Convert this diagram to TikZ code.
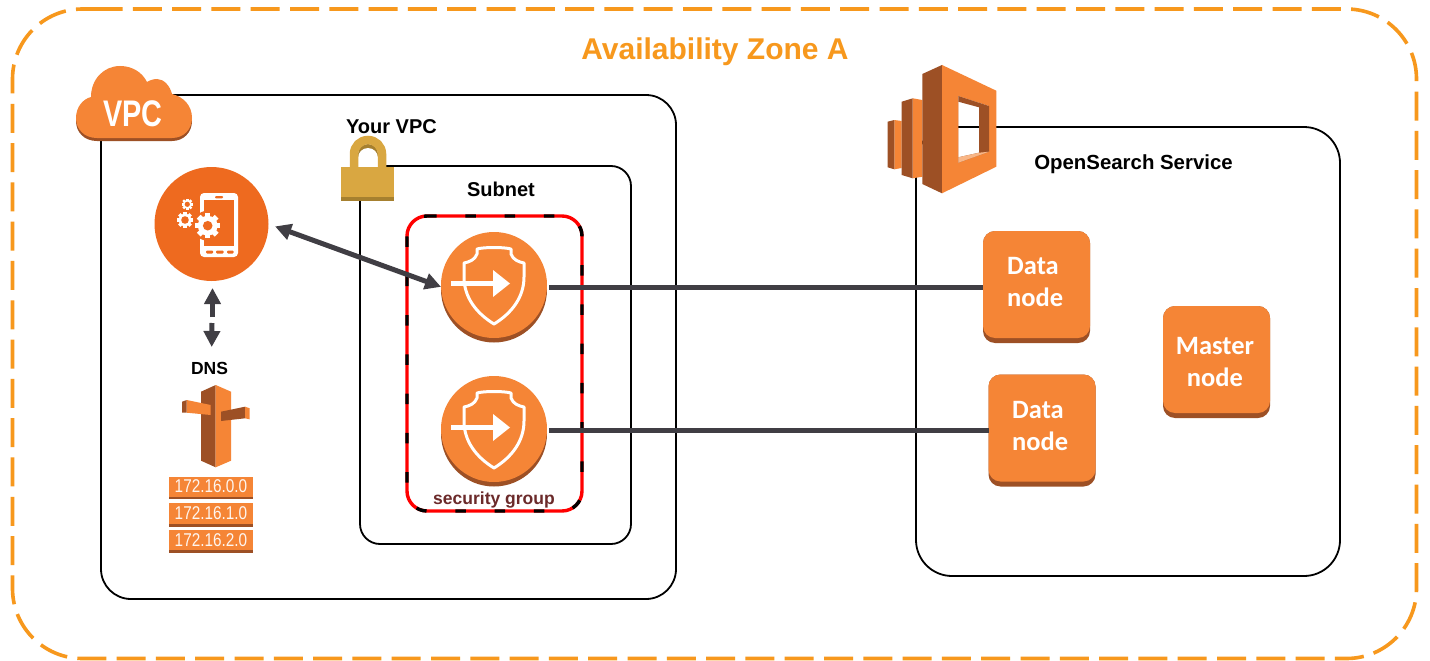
\documentclass[tikz,border=0pt]{standalone}
\usepackage{graphicx}
\usepackage{fontspec}
\setmainfont{Liberation Sans}
\newfontfamily\carlitofont{Carlito}
\usetikzlibrary{arrows.meta,calc}
\definecolor{awsorange}{HTML}{F58536}
\definecolor{awsdark}{HTML}{9D5025}
\definecolor{appor}{HTML}{EE6A1F}
\definecolor{zoneor}{HTML}{F7981D}
\definecolor{arrowgrey}{HTML}{403E44}
\definecolor{lockgold}{HTML}{D9A741}
\definecolor{lockdark}{HTML}{A6802F}
\definecolor{sgtext}{HTML}{6B2A2A}
\tikzset{
  x=1pt,y=-1pt,
  panel/.style={draw=black,line width=1.8pt,fill=none},
  label/.style={font=\bfseries\fontsize{20}{24}\selectfont,text=black,inner sep=0pt},
  smalllabel/.style={font=\bfseries\fontsize{17.5}{21}\selectfont,inner sep=0pt},
  nodetext/.style={font=\carlitofont\bfseries\fontsize{26.5}{32}\selectfont,text=white,inner sep=0pt,align=left},
  nodeshade/.style={fill=awsdark,rounded corners=12pt,minimum width=107pt,minimum height=112pt,inner sep=0pt,outer sep=0pt},
  wire/.style={draw=arrowgrey,line width=5pt},
  biarrow/.style={draw=arrowgrey,line width=5pt,{Triangle[length=16pt,width=16pt]}-{Triangle[length=16pt,width=16pt]}},
  uniarrow/.style={draw=arrowgrey,line width=5pt,-{Triangle[length=16pt,width=16pt]}},
  ipbox/.style={fill=awsorange,text=white!92!awsorange,font=\fontsize{18.5}{20}\selectfont,minimum width=84pt,minimum height=20pt,inner sep=0pt,outer sep=0pt},
  sgnode/.style={circle,minimum size=106pt,inner sep=0pt,outer sep=0pt},
}
\newcommand{\sgicon}[1]{%
  \fill[awsdark] ($(#1)+(0,4.5)$) circle[radius=53];
  \begin{scope}[shift={(#1)},draw=white,line width=3pt,line join=round]
    \fill[awsorange] (0,0) circle[radius=53];
    \draw (0,39) .. controls (-18,28) and (-30,12) .. (-30,-8) -- (-30,-22)
      .. controls (-25,-23) and (-19,-25) .. (-17,-31) -- (-17,-36)
      .. controls (-10,-38) and (10,-38) .. (17,-36) -- (17,-31)
      .. controls (19,-25) and (25,-23) .. (30,-22) -- (30,-8)
      .. controls (30,12) and (18,28) .. (0,39) -- cycle;
    \draw[line width=4.5pt] (-43,-1.5) -- (2,-1.5);
    \fill[white] (-1,-15) -- (16,-1.5) -- (-1,12) -- cycle;
  \end{scope}}
\newcommand{\gearicon}[4]{%
  \foreach \a in {0,45,...,315}{\draw[white,line width=#3*0.42pt] (#1,#2) -- ++(\a:#3);}
  \fill[white] (#1,#2) circle[radius=#3*0.78];
  \fill[appor] (#1,#2) circle[radius=#4];}
\newcommand{\cloudshape}{(97,138) .. controls (84,138) and (76,129) .. (76,118)
  .. controls (76,107) and (83,99) .. (91,97)
  .. controls (91,79) and (104,66) .. (120,66)
  .. controls (132,66) and (142,72) .. (147,82)
  .. controls (150,80) and (154,79) .. (157,79)
  .. controls (164,79) and (170,86) .. (172,94)
  .. controls (184,97) and (192,106) .. (192,118)
  .. controls (192,129) and (184,138) .. (172,138) -- cycle}
\begin{document}
\begin{tikzpicture}
\useasboundingbox (0,0) rectangle (1430,661);
\fill[white] (0,0) rectangle (1430,661);
% zone
\draw[draw=zoneor,line width=3.6pt,rounded corners=70pt,dash pattern=on 29pt off 10.3pt]
  (93.5,9) -- (1416.5,9) -- (1416.5,658.5) -- (12.5,658.5) -- (12.5,9) -- (93.5,9);
\node[font=\bfseries\fontsize{30}{36}\selectfont,text=zoneor,inner sep=0pt] (zonetitle) at (715,52) {Availability Zone A};
% panels
\draw[panel,rounded corners=30pt] (101,95) rectangle (676,599);
\draw[panel,rounded corners=20pt] (360,166) rectangle (631,544);
\draw[panel,rounded corners=36pt] (916,127) rectangle (1340,576);
% security group
\draw[draw=red,line width=3.4pt,rounded corners=20pt] (407,216) rectangle (582,511);
\draw[draw=black,line width=3.4pt,rounded corners=20pt,dash pattern=on 10.5pt off 28.78pt]
  (426,216) -- (582,216) -- (582,511) -- (407,511) -- (407,216) -- (426,216);
% cloud
\fill[awsdark,shift={(0,3)}] \cloudshape;
\fill[awsorange] \cloudshape;
\node[font=\bfseries\fontsize{37}{40}\selectfont,text=white,inner sep=0pt,xscale=0.78] (vpclabel) at (133,114) {VPC};
% lock
\fill[lockdark] (358,168) -- (358,154) arc[start angle=-180,end angle=0,radius=10] -- (378,168) -- cycle;
\fill[white] (358,168) -- (358,158) arc[start angle=-180,end angle=0,radius=10] -- (378,168) -- cycle;
\draw[lockgold,line width=8.5pt] (354,168) -- (354,154) arc[start angle=-180,end angle=0,radius=14] -- (382,168);
\fill[lockgold] (341,166.7) rectangle (394.3,197);
\fill[lockdark] (341,197) rectangle (394.3,200.7);
\node[label] (yourvpc) at (391.5,127) {Your VPC};
\node[label] (subnet) at (501,189) {Subnet};
\node[label,font=\bfseries\fontsize{20.4}{24}\selectfont] (oslabel) at (1133.5,164) {OpenSearch Service};
% app
\node[circle,fill=appor,minimum size=114pt,inner sep=0pt,outer sep=0pt] (app) at (211.5,224) {};
\fill[white,rounded corners=4pt] (200,193) rectangle (238,257);
\fill[appor] (204,200) rectangle (234,246);
\fill[appor,rounded corners=1pt] (215,196) rectangle (223,198.4);
\fill[appor,rounded corners=1pt] (206,250.5) rectangle (213,253.5);
\fill[appor,rounded corners=1pt] (216,250.5) rectangle (223.5,253.5);
\fill[appor,rounded corners=1pt] (227,250.5) rectangle (233.5,253.5);
\fill[appor] (207.7,225.7) circle[radius=15];
\gearicon{207.7}{225.7}{12.7}{4.8}
\gearicon{185}{220}{8}{3.8}
\gearicon{187.3}{204.3}{5.8}{2.6}
% arrows at app
\coordinate (dnsGapTop) at (212.5,317);
\coordinate (appTip) at (212.5,288);
\coordinate (dnsGapBot) at (212,323);
\coordinate (dnsTip) at (211.7,347);
\draw[uniarrow] (dnsGapTop) -- (appTip);
\draw[uniarrow] (dnsGapBot) -- (dnsTip);
% DNS
\node[smalllabel] (dnslabel) at (209.5,368) {DNS};
\fill[awsdark] (201,391.7) -- (215.7,385) -- (215.7,467.3) -- (201,460.7) -- cycle;
\fill[awsorange] (215.7,385) -- (231,391.7) -- (231,460.7) -- (215.7,467.3) -- cycle;
\fill[awsorange] (186.7,400) -- (210.7,405) -- (210.7,415) -- (186.7,412.7) -- cycle;
\fill[awsdark] (182,401.7) -- (186.7,400) -- (186.7,412.7) -- (182,412.7) -- cycle;
\fill[awsdark] (221,411.7) -- (245,406.7) -- (245,418.3) -- (221,421) -- cycle;
\fill[awsorange] (245,406.7) -- (249.7,408.3) -- (249.7,419.3) -- (245,418.3) -- cycle;
\fill[awsdark] (169,496) rectangle (253,499.3);
\fill[awsdark] (169,523.5) rectangle (253,527);
\fill[awsdark] (169,550) rectangle (253,553.3);
\node[ipbox,minimum height=20pt] (ipA) at (211,486.5) {\scalebox{.83}[1]{172.16.0.0}};
\node[ipbox,minimum height=21pt] (ipB) at (211,513.5) {\scalebox{.83}[1]{172.16.1.0}};
\node[ipbox,minimum height=20pt] (ipC) at (211,540) {\scalebox{.83}[1]{172.16.2.0}};
% security-group endpoints
\sgicon{494,285}
\sgicon{494,429}
\node[sgnode] (sgA) at (494,285) {};
\node[sgnode] (sgB) at (494,429) {};
\node[smalllabel,text=sgtext] (sglabel) at (494,500.5) {security group};
% OpenSearch icon
\fill[awsorange] (894.3,120) -- (901.7,121) -- (901.7,168) -- (894.3,169.3) -- cycle;
\fill[awsdark] (887.7,121.7) -- (894.3,120) -- (894.3,169.3) -- (887.7,167.3) -- cycle;
\fill[awsorange] (912.7,98.3) -- (922.3,100) -- (922.3,176.7) -- (912.7,178.3) -- cycle;
\fill[awsdark] (901.7,101.7) -- (912.7,98.3) -- (912.7,178.3) -- (901.7,175) -- cycle;
\fill[awsdark] (922.3,74) -- (942,65) -- (942,193.3) -- (922.3,184) -- cycle;
\fill[awsorange,even odd rule] (942,65) -- (996.3,90.7) -- (996.3,166.7) -- (942,193.3) -- cycle
  (958.3,96) -- (989,106) -- (989,151.7) -- (958.3,162.7) -- cycle;
\fill[awsdark,even odd rule] (958.3,96) -- (989,106) -- (989,151.7) -- (958.3,162.7) -- cycle
  (958.3,101.7) -- (979,107.3) -- (979,152.7) -- (958.3,157.3) -- cycle;
\fill[awsorange!60!white] (958.3,157.3) -- (979,152.7) -- (989,151.7) -- (958.3,162.7) -- cycle;
% data nodes
\node[nodeshade] (dnA) at (1036.5,287) {};
\fill[awsorange,rounded corners=12pt] (dnA.north west) rectangle ($(dnA.south east)+(0,-5)$);
\node[nodetext,anchor=west] (dnAtext) at (1007,282) {Data\\node};
\node[nodeshade] (dnB) at (1042,430.5) {};
\fill[awsorange,rounded corners=12pt] (dnB.north west) rectangle ($(dnB.south east)+(0,-5)$);
\node[nodetext,anchor=west] (dnBtext) at (1012,426) {Data\\node};
\node[nodeshade] (mn) at (1216.5,362) {};
\fill[awsorange,rounded corners=12pt] (mn.north west) rectangle ($(mn.south east)+(0,-5)$);
\node[nodetext,align=center] (mntext) at (1215,362) {Master\\node};
% connectors
\draw[wire,shorten <=2pt] (sgA.east |- dnA.west) -- (dnA.west);
\draw[wire,shorten <=2pt] (sgB.east |- dnB.west) -- (dnB.west);
\draw[biarrow,shorten <=7pt] (app.east) -- (sgA.182);
\end{tikzpicture}
\end{document}
